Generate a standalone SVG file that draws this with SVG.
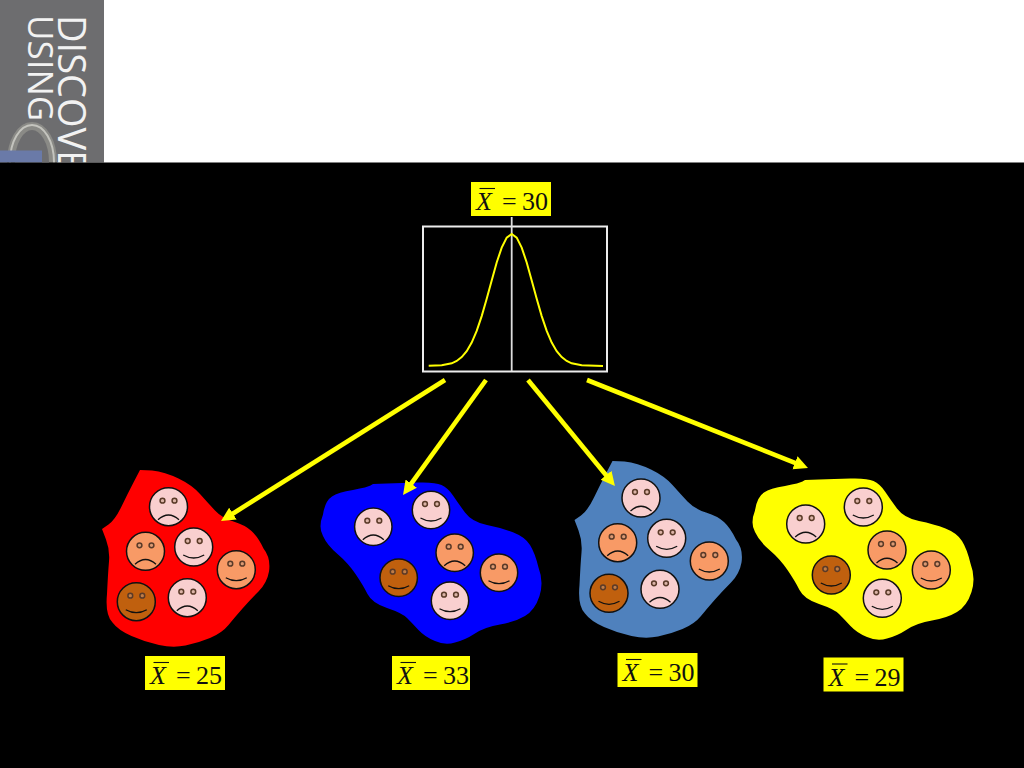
<svg xmlns="http://www.w3.org/2000/svg" width="1024" height="768" viewBox="0 0 1024 768">
<style>
.face{stroke:#111;stroke-width:1.5}
.pale{fill:#f9cfcf}.orange{fill:#f89a66}.brown{fill:#c0600e}
.eye{fill:#c09a80;fill-opacity:.5;stroke:#5a3a28;stroke-width:1.5}
.mouth{fill:none;stroke:#111;stroke-width:1.3}
.lab{fill:#ffff00}
.lt{font-family:"Liberation Serif","Times New Roman",serif;font-size:26px;fill:#111}
.li{font-style:italic}
.bar{stroke:#111;stroke-width:1.1}
.hdr{font-family:"Open Sans","Noto Sans",sans-serif;fill:#f2f2f2}
.arrow{stroke:#ffff00;stroke-width:4.6;fill:none;marker-end:url(#head)}
</style>
<defs>
<marker id="head" markerUnits="userSpaceOnUse" markerWidth="16" markerHeight="16" refX="4" refY="8" orient="auto"><path d="M0,1 L14,8 L0,15 Z" fill="#ffff00"/></marker>
<g id="happy"><path class="mouth" d="M-10.5,8 Q0,14 10.5,8"/><circle class="eye" cx="-6" cy="-6" r="2.4"/><circle class="eye" cx="6" cy="-6" r="2.4"/></g>
<g id="sad"><path class="mouth" d="M-10.5,13 Q0,3.5 10.5,13"/><circle class="eye" cx="-6" cy="-6" r="2.4"/><circle class="eye" cx="6" cy="-6" r="2.4"/></g>
<path id="blobA" d="M140,470 L152,470.5 Q165,472 178.5,478.5 Q192,485 200,494 Q208,503 215,510.5 Q222,518 233.5,521.5 Q245,525 251.5,531 Q258,537 263.5,548.5 Q271,558 269,571.5 Q267,583 258.5,591.5 Q250,600 242.5,608.5 Q235,617 228.5,625 Q222,633 210,638 Q198,643 185.5,645.5 Q173,648 159,645 Q145,642 131.5,636 Q118,630 112.5,622.5 Q105,615 107,594 Q108,573 109,561.5 Q110,550 106,539.5 L102,529 L108.5,524.5 Q115,520 121.5,506.5 Q128,493 134,481.5 Z"/>
<path id="blobB" d="M323,514.5 Q325,501 332,496.5 Q338,492 353,490 Q368,487 370.5,485.5 L373,484 L387,483.5 Q402,483 418.5,482.5 Q435,482 441.5,485 Q448,488 453,495.5 Q458,503 465,512.5 Q472,522 487,525 Q502,528 513.5,532.5 Q525,537 530,545 Q535,553 538.5,567.5 Q544,582 539.5,596 Q535,610 525,616 Q515,622 500,624.5 Q485,627 475,633.5 Q465,640 455,642.5 Q445,645.5 435,641 Q425,637 418.5,630 Q412,623 407,618 Q402,613 387,608 Q372,603 367.5,594 Q363,585 355.5,574 Q348,563 337.5,554 Q327,545 323,536 Q318,527 323,514.5 Z"/>
</defs>
<rect width="1024" height="768" fill="#fff"/>
<g id="header">
<rect width="104" height="162.5" fill="#6d6d6f"/>
<text class="hdr" font-size="38" transform="translate(58,15) rotate(90)">DISCOVER</text>
<text class="hdr" font-size="35" transform="translate(28,15) rotate(90)">USING</text>
<ellipse cx="32" cy="162" rx="21" ry="36" fill="none" stroke="#8a8a86" stroke-width="8"/>
<ellipse cx="32" cy="162" rx="22" ry="37" fill="none" stroke="#c4c4be" stroke-width="2"/>
<rect x="0" y="150.5" width="42" height="12" fill="#6a7aa8"/>
</g>
<rect y="162.5" width="1024" height="605.5" fill="#000"/>
<g id="distribution">
<rect x="423" y="226.5" width="184" height="145" fill="none" stroke="#ececec" stroke-width="2"/>
<line x1="511.7" y1="217" x2="511.7" y2="371" stroke="#ddd" stroke-width="1.8"/>
<polyline fill="none" stroke="#ffff00" stroke-width="2" points="428.7,365.8 441.7,365.3 451.7,363.3 456.7,361 461.7,357.1 466.7,351.2 471.7,342.6 476.7,330.9 481.7,316.1 486.7,298.8 491.7,280.4 496.7,262.5 501.7,247.6 506.7,237.6 511.7,234 516.7,237.6 521.7,247.6 526.7,262.5 531.7,280.4 536.7,298.8 541.7,316.1 546.7,330.9 551.7,342.6 556.7,351.2 561.7,357.1 566.7,361 571.7,363.3 581.7,365.3 603,366"/>
</g>
<g id="mean-population"><rect class="lab" x="471" y="182" width="80" height="34"/><line class="bar" x1="479.5" y1="188.5" x2="495" y2="188.5"/><text class="lt" y="210"><tspan class="li" x="476">X</tspan><tspan x="502">=</tspan><tspan x="522">30</tspan></text></g>
<g id="sample-red">
<use href="#blobA" fill="#ff0000"/>
<circle class="face pale" cx="168.5" cy="506.7" r="19"/><use href="#sad" x="168.5" y="506.7"/>
<circle class="face orange" cx="145.5" cy="551.3" r="19"/><use href="#sad" x="145.5" y="551.3"/>
<circle class="face pale" cx="193.7" cy="547" r="19"/><use href="#happy" x="193.7" y="547"/>
<circle class="face orange" cx="236.3" cy="569.7" r="19"/><use href="#happy" x="236.3" y="569.7"/>
<circle class="face brown" cx="136.3" cy="601.7" r="19"/><use href="#happy" x="136.3" y="601.7"/>
<circle class="face pale" cx="187.3" cy="597.7" r="19"/><use href="#sad" x="187.3" y="597.7"/>
<rect class="lab" x="145" y="656" width="80" height="34"/><line class="bar" x1="153.5" y1="662.5" x2="169" y2="662.5"/><text class="lt" y="684"><tspan class="li" x="150">X</tspan><tspan x="176">=</tspan><tspan x="196">25</tspan></text>
</g>
<g id="sample-blue">
<use href="#blobB" fill="#0000ff"/>
<circle class="face pale" cx="373.3" cy="526.7" r="18.7"/><use href="#sad" x="373.3" y="526.7"/>
<circle class="face pale" cx="431" cy="510" r="18.7"/><use href="#happy" x="431" y="510"/>
<circle class="face orange" cx="454.7" cy="552.7" r="18.7"/><use href="#sad" x="454.7" y="552.7"/>
<circle class="face orange" cx="499" cy="572.7" r="18.7"/><use href="#happy" x="499" y="572.7"/>
<circle class="face brown" cx="398.7" cy="577.7" r="18.7"/><use href="#happy" x="398.7" y="577.7"/>
<circle class="face pale" cx="450" cy="600.7" r="18.7"/><use href="#happy" x="450" y="600.7"/>
<rect class="lab" x="392" y="656" width="78" height="34"/><line class="bar" x1="400.5" y1="662.5" x2="416" y2="662.5"/><text class="lt" y="684"><tspan class="li" x="397">X</tspan><tspan x="423">=</tspan><tspan x="443">33</tspan></text>
</g>
<g id="sample-steel">
<use href="#blobA" x="472.5" y="-9" fill="#4f81bd"/>
<circle class="face pale" cx="641" cy="498" r="19"/><use href="#sad" x="641" y="498"/>
<circle class="face orange" cx="617.7" cy="542.7" r="19"/><use href="#sad" x="617.7" y="542.7"/>
<circle class="face pale" cx="666.7" cy="538.3" r="19"/><use href="#happy" x="666.7" y="538.3"/>
<circle class="face orange" cx="709.3" cy="561" r="19"/><use href="#happy" x="709.3" y="561"/>
<circle class="face brown" cx="609" cy="593.3" r="19"/><use href="#happy" x="609" y="593.3"/>
<circle class="face pale" cx="660" cy="589.3" r="19"/><use href="#sad" x="660" y="589.3"/>
<rect class="lab" x="617.5" y="653" width="80" height="34"/><line class="bar" x1="626" y1="659.5" x2="641.5" y2="659.5"/><text class="lt" y="681"><tspan class="li" x="622.5">X</tspan><tspan x="648.5">=</tspan><tspan x="668.5">30</tspan></text>
</g>
<g id="sample-yellow">
<use href="#blobB" x="432" y="-4" fill="#ffff00"/>
<circle class="face pale" cx="805.7" cy="524" r="19"/><use href="#sad" x="805.7" y="524"/>
<circle class="face pale" cx="863.3" cy="507" r="19"/><use href="#happy" x="863.3" y="507"/>
<circle class="face orange" cx="887" cy="550" r="19"/><use href="#sad" x="887" y="550"/>
<circle class="face orange" cx="931.3" cy="570" r="19"/><use href="#happy" x="931.3" y="570"/>
<circle class="face brown" cx="831.3" cy="575" r="19"/><use href="#happy" x="831.3" y="575"/>
<circle class="face pale" cx="882.3" cy="598.3" r="19"/><use href="#happy" x="882.3" y="598.3"/>
<rect class="lab" x="823.5" y="657.5" width="80" height="34"/><line class="bar" x1="832" y1="664" x2="847.5" y2="664"/><text class="lt" y="685.5"><tspan class="li" x="828.5">X</tspan><tspan x="854.5">=</tspan><tspan x="874.5">29</tspan></text>
</g>
<g id="connectors">
<line class="arrow" x1="445" y1="380" x2="229.5" y2="515.7"/>
<line class="arrow" x1="486" y1="380" x2="408.9" y2="486.9"/>
<line class="arrow" x1="528" y1="380" x2="608.6" y2="478.3"/>
<line class="arrow" x1="587" y1="380" x2="798.7" y2="464.3"/>
</g>
</svg>
